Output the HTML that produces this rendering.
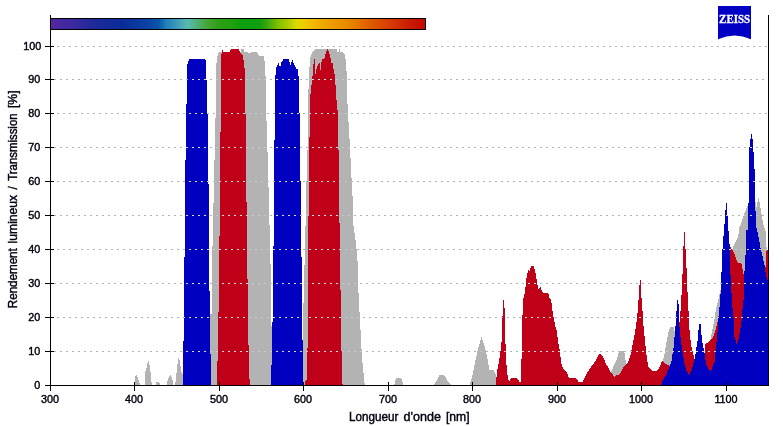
<!DOCTYPE html>
<html lang="fr">
<head>
<meta charset="utf-8">
<title>Rendement lumineux / Transmission</title>
<style>
html, body { margin: 0; padding: 0; background: #ffffff; }
body { width: 783px; height: 426px; overflow: hidden; }
svg { display: block; }
text { font-family: "Liberation Sans", sans-serif; fill: #000010; stroke: #000010; stroke-width: 0.4px; }
.lbl text { font-size: 10.8px; }
.ttl { font-size: 12px; }
.fill { shape-rendering: crispEdges; }
.ax line { stroke: #000; stroke-width: 1; shape-rendering: crispEdges; }
.grid line { stroke-width: 1; stroke-dasharray: 2 4; shape-rendering: crispEdges; }
</style>
</head>
<body>
<svg width="783" height="426" viewBox="0 0 783 426">
<defs>
<linearGradient id="spec" x1="0" x2="1" y1="0" y2="0">
<stop offset="0.0000" stop-color="#5228a6"/>
<stop offset="0.0532" stop-color="#40289e"/>
<stop offset="0.1223" stop-color="#1c2a9a"/>
<stop offset="0.1915" stop-color="#0a2c98"/>
<stop offset="0.2606" stop-color="#0a44a4"/>
<stop offset="0.2872" stop-color="#0a54aa"/>
<stop offset="0.3085" stop-color="#2080b8"/>
<stop offset="0.3351" stop-color="#3c98b8"/>
<stop offset="0.3644" stop-color="#58b8b0"/>
<stop offset="0.3883" stop-color="#50b080"/>
<stop offset="0.4149" stop-color="#48a838"/>
<stop offset="0.4441" stop-color="#30a018"/>
<stop offset="0.4787" stop-color="#20a010"/>
<stop offset="0.5186" stop-color="#08a010"/>
<stop offset="0.5585" stop-color="#10a010"/>
<stop offset="0.5798" stop-color="#40a810"/>
<stop offset="0.6064" stop-color="#80c000"/>
<stop offset="0.6356" stop-color="#b0cc00"/>
<stop offset="0.6582" stop-color="#e0dc00"/>
<stop offset="0.6809" stop-color="#f0c800"/>
<stop offset="0.7128" stop-color="#f0b000"/>
<stop offset="0.7580" stop-color="#ec9800"/>
<stop offset="0.7952" stop-color="#e88800"/>
<stop offset="0.8457" stop-color="#e06000"/>
<stop offset="0.8976" stop-color="#d84000"/>
<stop offset="0.9484" stop-color="#cc2000"/>
<stop offset="1.0000" stop-color="#c00800"/>
</linearGradient>
<g id="gGray">
<polygon points="134.5,385.5 134.5,379 136,375 137,375 138.5,380 140,384 141,385.5"/>
<polygon points="145,385.5 145.3,372 147,366 148,361 149,361 150,368 151,375 151.8,385.5"/>
<polygon points="156,385.5 156,382 159,382 161,385.5"/>
<polygon points="167,385.5 167.5,381 169,377 170.3,375 171.5,377 172.5,380 173.5,385.5"/>
<polygon points="175,385.5 176,378 177,368 178.3,358 179.5,360 180.5,366 181.5,372 182.5,374 184,376 184,385.5"/>
<polygon points="210,385.5 210,314 212,314 212,246 213,246 213,203 214,203 214,160 215,160 215,118 216,118 216,67 217.3,56 219.2,52 240.9,52 240.9,49.2 243.8,49.2 243.8,52.1 247.9,52.1 248,53 251,53 251,52 256.8,52 259.4,56 264,56 264.7,63 265.6,77 265.9,120.6 266.9,120.6 266.9,151.5 267.8,151.5 267.8,186.6 268.7,186.6 268.7,224.5 269.8,224.5 269.8,263.6 271,263.6 271,326.4 272,326.4 272,385.5"/>
<polygon points="303.3,385.5 303.3,302.8 304.2,302.8 304.2,264.9 305,264.9 305,225.8 306.1,225.8 306.1,181 307,181 307,150 307.7,150 308.3,120 308.3,94 309.3,69.4 310.2,57.9 312.1,52.1 315,49.2 336.8,49.2 337,52 338.8,52 339,49.2 340,49.2 340.3,52 343.1,52 345,55.3 345.7,60.4 346.6,71.9 347,94 347,104 348,104 348,122 348.9,122 348.9,139 349.8,139 349.8,157.9 350.8,157.9 350.8,178 351.7,178 351.7,195.7 352.7,195.7 352.7,225.5 353.9,225.5 353.9,233.2 354.9,233.2 354.9,240.2 355.9,240.2 355.9,249.2 356.8,249.2 356.8,260.9 357.8,260.9 357.8,292.8 358.9,292.8 358.9,312 359.9,312 359.9,330 360.9,330 360.9,349 361.9,349 361.9,363 363,363 363,373.2 363.8,373.2 363.8,383.4 365,383.4 365,385.5"/>
<polygon points="393.9,385.5 396.2,378 401.3,378 403.8,385.5"/>
<polygon points="433.9,385.5 439.4,375.2 444.3,375.2 447.8,381.5 450,383 450.9,385.5"/>
<polygon points="470.3,385.5 470.3,382.5 472.1,377.3 475.2,361.7 478.2,347.8 481.6,336.8 485.1,347.8 487.7,360 489.4,370.3 493.8,370.3 496.4,375.6 497,385.5"/>
<polygon points="611,385.5 611.2,371.7 613.7,366 617,359.4 618.6,352.8 619.4,351.2 624.3,351.2 625.2,357.8 626,363.5 628,368 628,385.5"/>
<polygon points="662,385.5 663.1,359.8 665,351.3 666.9,340 668.8,330.7 670.7,327 673.6,327 674.9,332 677,340 680,385.5"/>
<polygon points="709,385.5 709.5,341 710.3,340 711.8,332.3 714.1,321.6 715.6,311 717.9,301.8 720.2,291 733,247.5 738.1,236.6 739.4,227.7 742.3,220 744.8,212.3 746.5,208.1 750,200 755.2,199 756.3,208 758.5,198 759.9,203.2 761.3,213 763.4,224.3 765.5,231.3 766.2,244 766.9,251 768,260 768,385.5"/>
</g>
<g id="gRed">
<polygon points="217,385.5 217,361 217.9,361 217.9,312 218.9,312 218.9,236 219.8,236 219.8,160 220,132 221.1,132 221.1,94 221.3,60 221.7,49.2 222,49.2 223.6,52.1 229.4,52.1 231.3,49.2 239,49.2 240,52 242.8,55.3 244.5,67.5 245,94 245,113.5 246.2,113.5 246.2,202 247,202 247,278.5 247.9,278.5 247.9,345 248.8,345 248.8,379 249.8,379 249.8,385.5"/>
<polygon points="305,385.5 305,381 306.7,380 306.7,348 307.7,348 308,340 308,216.2 308.9,216.2 308.9,137 309.9,137 309.9,94 310.9,94 311.2,87.3 312.9,73.2 313.4,65.5 314,59.2 315,59.2 315.3,74.5 316.3,70 317.6,65.5 319.5,63 320.1,63 320.1,70 321.2,70 321.2,63 322.4,59.2 324.6,57.9 325.9,52.1 327.5,49.2 329.1,52.1 330.4,57.9 331.6,63 332.9,63.6 333.5,68.7 334.8,75.8 335.7,87.3 336,94 336.7,102.8 337.8,113 338,149.6 338.9,149.6 338.9,222.6 339.9,222.6 339.9,289.7 340.9,289.7 340.9,351 342,351 342,384 343,384 343,385.5"/>
<polygon points="496,385.5 496.2,380 497.4,369.3 499,361 501.2,347 502.3,330 502.3,315.8 503,315.8 503,299.7 504,299.7 504,307.5 504.8,307.5 504.8,320 505.4,341.7 506.3,363 507.7,377 509.2,381.6 511,378 517.1,378 519.6,382 521,382 521,358.6 522,358.6 522,325 523.3,299.3 524.8,292.8 526.9,274.7 528.3,269.8 529.7,271.4 531.1,266 533.5,266 534.7,269 536,274.7 537.1,282.9 538.4,288.7 540.4,287 542.2,292 544.2,293.1 548.3,293.1 549.4,298 551.1,299.7 552.4,310.8 554,319 554.9,325 556.5,329.9 558.1,341.3 559.8,351.2 561.4,363.5 563.1,368.4 566.4,371.7 568.8,377.5 575.4,377.5 578.7,382 582.8,382 584.1,379 587.4,372.5 590.7,367.6 595.6,361 598.9,354.5 600.5,353.7 602.2,355.3 606.3,364.3 610.4,371.7 613.7,375.8 614.5,377.5 616.1,375 620.2,374.2 622.7,368.4 627.6,362.7 630.1,357 632.5,344.6 635,333.1 637.2,316.6 638.3,303.2 639.2,287.9 640,280 641.1,280 641.1,298 642,298 642,311 643,311 643,320 644,331.5 645.4,344.6 646.5,354.5 648.1,366.8 651.4,369.3 652.2,370.9 657.2,370.9 659.6,366.8 662.2,360.7 665,363.5 668.8,365.4 672,366 676,345 679,322 680,322 680,311 681,311 681,295 682.2,295 682.2,273.8 683.2,273.8 683.2,245.5 684,245.5 684,232 685,232 685,249.4 685.8,249.4 685.8,267.9 686.8,267.9 687,291.7 688,291.7 688,311 689,311 689.1,323.1 689.8,334.4 691.3,345.7 693.2,354.1 695.1,361.6 697,368 701,366 704.5,353 704.9,344.5 710.3,340.7 713.3,337 715.6,329.3 717.9,320.1 719.4,310.2 720,309 729.3,245.8 731.7,249 734.5,254 737.3,262.4 741.5,263.8 743,270.8 743.9,275.8 746,300 750,330 760,330 765,275 766.5,251 768,249 768,385.5"/>
</g>
<g id="gBlue">
<polygon points="183,385.5 183,341 184,341 184,257 185,257 185,160 186,160 186,104 187.2,104 187.2,65 189.2,59 205.1,59 206.1,61 206.1,80 207,80 207,113 208,113 208,184 209,184 209,291 210,291 210,354 211,354 211,385.5"/>
<polygon points="270.7,385.5 270.7,364.6 271.9,364.6 271.9,322 272.9,322 272.9,246.4 274.2,246.4 274.2,139.8 275,139.8 275,94 275.7,68.1 278.4,63 280.2,68.1 281.2,63 283.4,59.2 288.8,59.2 290.5,64.9 292.3,59.2 293.3,62.3 295.9,68.4 297.8,69.4 298.7,77 299.1,94 299.1,113 300,113 300,181 301,181 301,256.6 302,256.6 302,339.8 303.3,339.8 303.3,385.5"/>
<polygon points="660.9,385.5 663.1,379.5 666,374.8 668.8,368.2 671.6,360.7 673.5,347.6 675.4,326.9 675.9,324 675.9,311 676.8,311 676.8,300 678.1,300 678.1,303.8 679,303.8 679,320.4 679.7,328.8 681,341.9 682.9,355 684.7,364.5 686.6,371 689.4,374.8 692.3,368.2 695.1,357 696.9,343.8 698.2,337 698.2,330 699.2,330 699.2,324 700.8,324 700.8,329.4 702,338.5 702.6,343.8 704.5,353.2 706.3,364.5 709.2,370 711,372 712.9,366.3 714.8,360.7 715.7,347.6 717.2,337 718.2,321.6 719.3,309.6 720.3,297 721.1,283.5 722.1,255.4 723.2,238.5 724.2,230 724.6,222.9 725.6,208.8 726.3,201.8 727,204.6 727.9,225 728.9,235 729.6,245.5 730.3,270.8 731.3,290 732.3,306 733.7,320.2 734.4,337 736.5,343.5 737.2,343.5 738.6,338.5 740,331.5 741.4,323 742.1,313.2 743.5,300.5 743.9,285 744,275.8 745.1,265.2 745.8,248.3 746.5,230 747.9,230 747.9,203.2 749,203.2 749,146.8 750.3,146.8 750.3,139 751,139 751,133.8 752,133.8 752,139 752.8,139 752.8,152 753.8,152 753.8,169 754.9,169 754.9,210.9 755.9,210.9 755.9,227.8 757,227.8 757,230 758.5,237 760.6,248.3 762.7,256.8 764.8,266.6 766.2,276.5 767.6,280 768,281 768,385.5"/>
</g>
<clipPath id="cGray">
<polygon points="134.5,385.5 134.5,379 136,375 137,375 138.5,380 140,384 141,385.5"/>
<polygon points="145,385.5 145.3,372 147,366 148,361 149,361 150,368 151,375 151.8,385.5"/>
<polygon points="156,385.5 156,382 159,382 161,385.5"/>
<polygon points="167,385.5 167.5,381 169,377 170.3,375 171.5,377 172.5,380 173.5,385.5"/>
<polygon points="175,385.5 176,378 177,368 178.3,358 179.5,360 180.5,366 181.5,372 182.5,374 184,376 184,385.5"/>
<polygon points="210,385.5 210,314 212,314 212,246 213,246 213,203 214,203 214,160 215,160 215,118 216,118 216,67 217.3,56 219.2,52 240.9,52 240.9,49.2 243.8,49.2 243.8,52.1 247.9,52.1 248,53 251,53 251,52 256.8,52 259.4,56 264,56 264.7,63 265.6,77 265.9,120.6 266.9,120.6 266.9,151.5 267.8,151.5 267.8,186.6 268.7,186.6 268.7,224.5 269.8,224.5 269.8,263.6 271,263.6 271,326.4 272,326.4 272,385.5"/>
<polygon points="303.3,385.5 303.3,302.8 304.2,302.8 304.2,264.9 305,264.9 305,225.8 306.1,225.8 306.1,181 307,181 307,150 307.7,150 308.3,120 308.3,94 309.3,69.4 310.2,57.9 312.1,52.1 315,49.2 336.8,49.2 337,52 338.8,52 339,49.2 340,49.2 340.3,52 343.1,52 345,55.3 345.7,60.4 346.6,71.9 347,94 347,104 348,104 348,122 348.9,122 348.9,139 349.8,139 349.8,157.9 350.8,157.9 350.8,178 351.7,178 351.7,195.7 352.7,195.7 352.7,225.5 353.9,225.5 353.9,233.2 354.9,233.2 354.9,240.2 355.9,240.2 355.9,249.2 356.8,249.2 356.8,260.9 357.8,260.9 357.8,292.8 358.9,292.8 358.9,312 359.9,312 359.9,330 360.9,330 360.9,349 361.9,349 361.9,363 363,363 363,373.2 363.8,373.2 363.8,383.4 365,383.4 365,385.5"/>
<polygon points="393.9,385.5 396.2,378 401.3,378 403.8,385.5"/>
<polygon points="433.9,385.5 439.4,375.2 444.3,375.2 447.8,381.5 450,383 450.9,385.5"/>
<polygon points="470.3,385.5 470.3,382.5 472.1,377.3 475.2,361.7 478.2,347.8 481.6,336.8 485.1,347.8 487.7,360 489.4,370.3 493.8,370.3 496.4,375.6 497,385.5"/>
<polygon points="611,385.5 611.2,371.7 613.7,366 617,359.4 618.6,352.8 619.4,351.2 624.3,351.2 625.2,357.8 626,363.5 628,368 628,385.5"/>
<polygon points="662,385.5 663.1,359.8 665,351.3 666.9,340 668.8,330.7 670.7,327 673.6,327 674.9,332 677,340 680,385.5"/>
<polygon points="709,385.5 709.5,341 710.3,340 711.8,332.3 714.1,321.6 715.6,311 717.9,301.8 720.2,291 733,247.5 738.1,236.6 739.4,227.7 742.3,220 744.8,212.3 746.5,208.1 750,200 755.2,199 756.3,208 758.5,198 759.9,203.2 761.3,213 763.4,224.3 765.5,231.3 766.2,244 766.9,251 768,260 768,385.5"/>
</clipPath>
<clipPath id="cRed">
<polygon points="217,385.5 217,361 217.9,361 217.9,312 218.9,312 218.9,236 219.8,236 219.8,160 220,132 221.1,132 221.1,94 221.3,60 221.7,49.2 222,49.2 223.6,52.1 229.4,52.1 231.3,49.2 239,49.2 240,52 242.8,55.3 244.5,67.5 245,94 245,113.5 246.2,113.5 246.2,202 247,202 247,278.5 247.9,278.5 247.9,345 248.8,345 248.8,379 249.8,379 249.8,385.5"/>
<polygon points="305,385.5 305,381 306.7,380 306.7,348 307.7,348 308,340 308,216.2 308.9,216.2 308.9,137 309.9,137 309.9,94 310.9,94 311.2,87.3 312.9,73.2 313.4,65.5 314,59.2 315,59.2 315.3,74.5 316.3,70 317.6,65.5 319.5,63 320.1,63 320.1,70 321.2,70 321.2,63 322.4,59.2 324.6,57.9 325.9,52.1 327.5,49.2 329.1,52.1 330.4,57.9 331.6,63 332.9,63.6 333.5,68.7 334.8,75.8 335.7,87.3 336,94 336.7,102.8 337.8,113 338,149.6 338.9,149.6 338.9,222.6 339.9,222.6 339.9,289.7 340.9,289.7 340.9,351 342,351 342,384 343,384 343,385.5"/>
<polygon points="496,385.5 496.2,380 497.4,369.3 499,361 501.2,347 502.3,330 502.3,315.8 503,315.8 503,299.7 504,299.7 504,307.5 504.8,307.5 504.8,320 505.4,341.7 506.3,363 507.7,377 509.2,381.6 511,378 517.1,378 519.6,382 521,382 521,358.6 522,358.6 522,325 523.3,299.3 524.8,292.8 526.9,274.7 528.3,269.8 529.7,271.4 531.1,266 533.5,266 534.7,269 536,274.7 537.1,282.9 538.4,288.7 540.4,287 542.2,292 544.2,293.1 548.3,293.1 549.4,298 551.1,299.7 552.4,310.8 554,319 554.9,325 556.5,329.9 558.1,341.3 559.8,351.2 561.4,363.5 563.1,368.4 566.4,371.7 568.8,377.5 575.4,377.5 578.7,382 582.8,382 584.1,379 587.4,372.5 590.7,367.6 595.6,361 598.9,354.5 600.5,353.7 602.2,355.3 606.3,364.3 610.4,371.7 613.7,375.8 614.5,377.5 616.1,375 620.2,374.2 622.7,368.4 627.6,362.7 630.1,357 632.5,344.6 635,333.1 637.2,316.6 638.3,303.2 639.2,287.9 640,280 641.1,280 641.1,298 642,298 642,311 643,311 643,320 644,331.5 645.4,344.6 646.5,354.5 648.1,366.8 651.4,369.3 652.2,370.9 657.2,370.9 659.6,366.8 662.2,360.7 665,363.5 668.8,365.4 672,366 676,345 679,322 680,322 680,311 681,311 681,295 682.2,295 682.2,273.8 683.2,273.8 683.2,245.5 684,245.5 684,232 685,232 685,249.4 685.8,249.4 685.8,267.9 686.8,267.9 687,291.7 688,291.7 688,311 689,311 689.1,323.1 689.8,334.4 691.3,345.7 693.2,354.1 695.1,361.6 697,368 701,366 704.5,353 704.9,344.5 710.3,340.7 713.3,337 715.6,329.3 717.9,320.1 719.4,310.2 720,309 729.3,245.8 731.7,249 734.5,254 737.3,262.4 741.5,263.8 743,270.8 743.9,275.8 746,300 750,330 760,330 765,275 766.5,251 768,249 768,385.5"/>
</clipPath>
<clipPath id="cBlue">
<polygon points="183,385.5 183,341 184,341 184,257 185,257 185,160 186,160 186,104 187.2,104 187.2,65 189.2,59 205.1,59 206.1,61 206.1,80 207,80 207,113 208,113 208,184 209,184 209,291 210,291 210,354 211,354 211,385.5"/>
<polygon points="270.7,385.5 270.7,364.6 271.9,364.6 271.9,322 272.9,322 272.9,246.4 274.2,246.4 274.2,139.8 275,139.8 275,94 275.7,68.1 278.4,63 280.2,68.1 281.2,63 283.4,59.2 288.8,59.2 290.5,64.9 292.3,59.2 293.3,62.3 295.9,68.4 297.8,69.4 298.7,77 299.1,94 299.1,113 300,113 300,181 301,181 301,256.6 302,256.6 302,339.8 303.3,339.8 303.3,385.5"/>
<polygon points="660.9,385.5 663.1,379.5 666,374.8 668.8,368.2 671.6,360.7 673.5,347.6 675.4,326.9 675.9,324 675.9,311 676.8,311 676.8,300 678.1,300 678.1,303.8 679,303.8 679,320.4 679.7,328.8 681,341.9 682.9,355 684.7,364.5 686.6,371 689.4,374.8 692.3,368.2 695.1,357 696.9,343.8 698.2,337 698.2,330 699.2,330 699.2,324 700.8,324 700.8,329.4 702,338.5 702.6,343.8 704.5,353.2 706.3,364.5 709.2,370 711,372 712.9,366.3 714.8,360.7 715.7,347.6 717.2,337 718.2,321.6 719.3,309.6 720.3,297 721.1,283.5 722.1,255.4 723.2,238.5 724.2,230 724.6,222.9 725.6,208.8 726.3,201.8 727,204.6 727.9,225 728.9,235 729.6,245.5 730.3,270.8 731.3,290 732.3,306 733.7,320.2 734.4,337 736.5,343.5 737.2,343.5 738.6,338.5 740,331.5 741.4,323 742.1,313.2 743.5,300.5 743.9,285 744,275.8 745.1,265.2 745.8,248.3 746.5,230 747.9,230 747.9,203.2 749,203.2 749,146.8 750.3,146.8 750.3,139 751,139 751,133.8 752,133.8 752,139 752.8,139 752.8,152 753.8,152 753.8,169 754.9,169 754.9,210.9 755.9,210.9 755.9,227.8 757,227.8 757,230 758.5,237 760.6,248.3 762.7,256.8 764.8,266.6 766.2,276.5 767.6,280 768,281 768,385.5"/>
</clipPath>
</defs>
<rect x="0" y="0" width="783" height="426" fill="#ffffff"/>
<g class="grid">
<line x1="57" x2="768" y1="46.5" y2="46.5" stroke="#b2b2b2"/>
<line x1="54" x2="768" y1="79.5" y2="79.5" stroke="#b2b2b2"/>
<line x1="57" x2="768" y1="113.5" y2="113.5" stroke="#b2b2b2"/>
<line x1="54" x2="768" y1="147.5" y2="147.5" stroke="#b2b2b2"/>
<line x1="57" x2="768" y1="181.5" y2="181.5" stroke="#b2b2b2"/>
<line x1="54" x2="768" y1="215.5" y2="215.5" stroke="#b2b2b2"/>
<line x1="57" x2="768" y1="249.5" y2="249.5" stroke="#b2b2b2"/>
<line x1="54" x2="768" y1="283.5" y2="283.5" stroke="#b2b2b2"/>
<line x1="57" x2="768" y1="317.5" y2="317.5" stroke="#b2b2b2"/>
<line x1="54" x2="768" y1="351.5" y2="351.5" stroke="#b2b2b2"/>
</g>
<g class="fill">
<use href="#gGray" fill="#b3b3b3"/>
<use href="#gRed" fill="#c00018"/>
<use href="#gBlue" fill="#0000c0"/>
</g>
<g class="grid" clip-path="url(#cGray)">
<line x1="57" x2="768" y1="46.5" y2="46.5" stroke="#c8c8c8"/>
<line x1="54" x2="768" y1="79.5" y2="79.5" stroke="#c8c8c8"/>
<line x1="57" x2="768" y1="113.5" y2="113.5" stroke="#c8c8c8"/>
<line x1="54" x2="768" y1="147.5" y2="147.5" stroke="#c8c8c8"/>
<line x1="57" x2="768" y1="181.5" y2="181.5" stroke="#c8c8c8"/>
<line x1="54" x2="768" y1="215.5" y2="215.5" stroke="#c8c8c8"/>
<line x1="57" x2="768" y1="249.5" y2="249.5" stroke="#c8c8c8"/>
<line x1="54" x2="768" y1="283.5" y2="283.5" stroke="#c8c8c8"/>
<line x1="57" x2="768" y1="317.5" y2="317.5" stroke="#c8c8c8"/>
<line x1="54" x2="768" y1="351.5" y2="351.5" stroke="#c8c8c8"/>
</g>
<g class="grid" clip-path="url(#cRed)">
<line x1="57" x2="768" y1="46.5" y2="46.5" stroke="#d8e0e0"/>
<line x1="54" x2="768" y1="79.5" y2="79.5" stroke="#d8e0e0"/>
<line x1="57" x2="768" y1="113.5" y2="113.5" stroke="#d8e0e0"/>
<line x1="54" x2="768" y1="147.5" y2="147.5" stroke="#d8e0e0"/>
<line x1="57" x2="768" y1="181.5" y2="181.5" stroke="#d8e0e0"/>
<line x1="54" x2="768" y1="215.5" y2="215.5" stroke="#d8e0e0"/>
<line x1="57" x2="768" y1="249.5" y2="249.5" stroke="#d8e0e0"/>
<line x1="54" x2="768" y1="283.5" y2="283.5" stroke="#d8e0e0"/>
<line x1="57" x2="768" y1="317.5" y2="317.5" stroke="#d8e0e0"/>
<line x1="54" x2="768" y1="351.5" y2="351.5" stroke="#d8e0e0"/>
</g>
<g class="grid" clip-path="url(#cBlue)">
<line x1="57" x2="768" y1="46.5" y2="46.5" stroke="#dcdcc4"/>
<line x1="54" x2="768" y1="79.5" y2="79.5" stroke="#dcdcc4"/>
<line x1="57" x2="768" y1="113.5" y2="113.5" stroke="#dcdcc4"/>
<line x1="54" x2="768" y1="147.5" y2="147.5" stroke="#dcdcc4"/>
<line x1="57" x2="768" y1="181.5" y2="181.5" stroke="#dcdcc4"/>
<line x1="54" x2="768" y1="215.5" y2="215.5" stroke="#dcdcc4"/>
<line x1="57" x2="768" y1="249.5" y2="249.5" stroke="#dcdcc4"/>
<line x1="54" x2="768" y1="283.5" y2="283.5" stroke="#dcdcc4"/>
<line x1="57" x2="768" y1="317.5" y2="317.5" stroke="#dcdcc4"/>
<line x1="54" x2="768" y1="351.5" y2="351.5" stroke="#dcdcc4"/>
</g>
<rect class="fill" x="50.5" y="18.5" width="375" height="11" fill="url(#spec)" stroke="#000" stroke-width="1"/>
<g class="ax">
<line x1="50.5" x2="50.5" y1="15" y2="391"/>
<line x1="768.5" x2="768.5" y1="15" y2="386"/>
<line x1="45" x2="769" y1="385.5" y2="385.5"/>
<line x1="134.5" x2="134.5" y1="382" y2="391"/>
<line x1="219.5" x2="219.5" y1="382" y2="391"/>
<line x1="303.5" x2="303.5" y1="382" y2="391"/>
<line x1="388.5" x2="388.5" y1="382" y2="391"/>
<line x1="472.5" x2="472.5" y1="382" y2="391"/>
<line x1="557.5" x2="557.5" y1="382" y2="391"/>
<line x1="641.5" x2="641.5" y1="382" y2="391"/>
<line x1="726.5" x2="726.5" y1="382" y2="391"/>
<line x1="45" x2="54" y1="46.5" y2="46.5"/>
<line x1="45" x2="54" y1="79.5" y2="79.5"/>
<line x1="45" x2="54" y1="113.5" y2="113.5"/>
<line x1="45" x2="54" y1="147.5" y2="147.5"/>
<line x1="45" x2="54" y1="181.5" y2="181.5"/>
<line x1="45" x2="54" y1="215.5" y2="215.5"/>
<line x1="45" x2="54" y1="249.5" y2="249.5"/>
<line x1="45" x2="54" y1="283.5" y2="283.5"/>
<line x1="45" x2="54" y1="317.5" y2="317.5"/>
<line x1="45" x2="54" y1="351.5" y2="351.5"/>
</g>
<g class="lbl">
<text x="50" y="403.4" text-anchor="middle">300</text>
<text x="134" y="403.4" text-anchor="middle">400</text>
<text x="219" y="403.4" text-anchor="middle">500</text>
<text x="303" y="403.4" text-anchor="middle">600</text>
<text x="388" y="403.4" text-anchor="middle">700</text>
<text x="472" y="403.4" text-anchor="middle">800</text>
<text x="557" y="403.4" text-anchor="middle">900</text>
<text x="641" y="403.4" text-anchor="middle">1000</text>
<text x="726" y="403.4" text-anchor="middle">1100</text>
<text x="41.3" y="50.1" text-anchor="end">100</text>
<text x="40.3" y="83.1" text-anchor="end">90</text>
<text x="40.3" y="117.1" text-anchor="end">80</text>
<text x="40.3" y="151.1" text-anchor="end">70</text>
<text x="40.3" y="185.1" text-anchor="end">60</text>
<text x="40.3" y="219.1" text-anchor="end">50</text>
<text x="40.3" y="253.1" text-anchor="end">40</text>
<text x="40.3" y="287.1" text-anchor="end">30</text>
<text x="40.3" y="321.1" text-anchor="end">20</text>
<text x="40.3" y="355.1" text-anchor="end">10</text>
<text x="40.3" y="389.1" text-anchor="end">0</text>
</g>
<text class="ttl" y="421.2" xml:space="preserve"><tspan x="348.9" textLength="49.4" lengthAdjust="spacingAndGlyphs">Longueur</tspan> <tspan x="403.5" textLength="37.4" lengthAdjust="spacingAndGlyphs">d'onde</tspan> <tspan x="446" textLength="23.6" lengthAdjust="spacingAndGlyphs">[nm]</tspan></text>
<text class="ttl" transform="translate(16.9 308.2) rotate(-90)" xml:space="preserve"><tspan x="0" textLength="60" lengthAdjust="spacingAndGlyphs">Rendement</tspan> <tspan x="64.8" textLength="48.6" lengthAdjust="spacingAndGlyphs">lumineux</tspan> <tspan x="118.6">/</tspan> <tspan x="127.4" textLength="67.4" lengthAdjust="spacingAndGlyphs">Transmission</tspan> <tspan x="200.2" textLength="17.6" lengthAdjust="spacingAndGlyphs">[%]</tspan></text>
<g>
<path d="M718,6 H751 V39.2 A40.6,40.6 0 0 0 718,39.2 Z" fill="#0000c4"/>
<text x="734.6" y="23.2" text-anchor="middle" textLength="31" lengthAdjust="spacingAndGlyphs" style="font-family:'Liberation Serif',serif;font-weight:bold;font-size:12px;fill:#ffffff;stroke:#ffffff;stroke-width:0.3px">ZEISS</text>
</g>
</svg>
</body>
</html>
